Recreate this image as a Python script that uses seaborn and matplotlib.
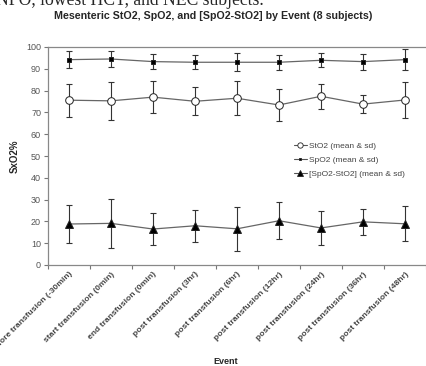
import matplotlib as mpl
import matplotlib.pyplot as plt
import numpy as np
import pandas as pd
import seaborn as sns

events = [
    "before transfusion (-30min)",
    "start transfusion (0min)",
    "end transfusion (0min)",
    "post transfusion (3hr)",
    "post transfusion (6hr)",
    "post transfusion (12hr)",
    "post transfusion (24hr)",
    "post transfusion (36hr)",
    "post transfusion (48hr)",
]
sto2_mean = [75.6, 75.3, 77.0, 75.1, 76.5, 73.4, 77.4, 73.8, 75.7]
sto2_sd = [7.5, 8.8, 7.3, 6.4, 7.7, 7.3, 5.7, 4.1, 8.2]
spo2_mean = [94.2, 94.5, 93.3, 93.0, 93.0, 93.0, 93.9, 93.3, 94.2]
spo2_sd = [4.0, 3.6, 3.6, 3.2, 4.2, 3.4, 3.2, 3.7, 4.8]
diff_mean = [18.8, 19.1, 16.5, 18.0, 16.6, 20.3, 17.0, 19.8, 18.9]
diff_sd = [8.8, 11.1, 7.4, 7.3, 10.0, 8.4, 8.0, 5.9, 8.1]
series = ["StO2 (mean & sd)", "SpO2 (mean & sd)", "[SpO2-StO2] (mean & sd)"]

sns.set_style("white")
mpl.rcParams["font.family"] = ["Liberation Sans", "DejaVu Sans"]

frames = []
for name, m, s in zip(series, [sto2_mean, spo2_mean, diff_mean], [sto2_sd, spo2_sd, diff_sd]):
    frames.append(pd.DataFrame({"Event": events, "pos": np.arange(len(events)),
                                "mean": m, "sd": s, "series": name}))
df = pd.concat(frames, ignore_index=True)

fig = plt.figure(figsize=(4.26, 3.66), dpi=100)
ax = fig.add_axes([48 / 426, 1 - 265 / 366, 378 / 426, 218 / 366])

markers = {series[0]: "o", series[1]: "s", series[2]: "^"}
sizes = {series[0]: 5.5, series[1]: 2.8, series[2]: 5.5}
faces = {series[0]: "white", series[1]: "black", series[2]: "black"}

for name in series:
    sub = df[df["series"] == name]
    ax.errorbar(sub["pos"], sub["mean"], yerr=sub["sd"], fmt="none",
                ecolor="#333333", elinewidth=0.8, capsize=2, capthick=0.8, zorder=2)

sns.lineplot(data=df, x="pos", y="mean", hue="series", style="series",
             palette=["#666666"] * 3, dashes=False, markers=markers,
             linewidth=0.9, ax=ax, legend=False, zorder=3)

for line, name in zip(ax.get_lines()[-3:], series):
    line.set_markersize(sizes[name])
    line.set_markerfacecolor(faces[name])
    line.set_markeredgecolor("#222222")
    line.set_markeredgewidth(0.7)

handles = [mpl.lines.Line2D([], [], color="#555555", lw=0.8, marker=markers[n],
                            markersize=sizes[n] * 0.7, markerfacecolor=faces[n],
                            markeredgecolor="#222222", markeredgewidth=0.6)
           for n in series]
ax.legend(handles, series, loc="upper left", bbox_to_anchor=(0.63, 0.60),
          frameon=False, fontsize=6, handlelength=1.6, handletextpad=0.3,
          labelspacing=0.75, labelcolor="#444444")

ax.set_xlim(-0.5, len(events) - 0.5)
ax.set_ylim(0, 100)
ax.set_yticks(np.arange(0, 101, 10))
ax.set_xticks(np.arange(len(events)))
ax.set_xticklabels(events, rotation=45, ha="right", rotation_mode="anchor",
                   fontsize=6.1, color="#444444", fontweight="bold")
ax.set_xticks(np.arange(len(events) + 1) - 0.5, minor=True)
ax.tick_params(axis="x", which="major", length=0, pad=4)
ax.tick_params(axis="x", which="minor", length=3, color="#777777", width=0.8,
               direction="out", bottom=True)
ax.tick_params(axis="y", labelsize=6.5, labelcolor="#555555", length=3,
               color="#777777", width=0.8, direction="out", left=True, pad=2)

for side in ["left", "bottom", "top"]:
    ax.spines[side].set_color("#888888")
    ax.spines[side].set_linewidth(0.9)
ax.spines["right"].set_visible(False)

ax.set_xlabel("Event", fontsize=6.5, fontweight="bold", labelpad=0)
ax.xaxis.set_label_coords(178 / 378, -0.42)
ax.set_ylabel("SxO2%", fontsize=7, fontweight="bold")
ax.yaxis.set_label_coords(-0.075, 0.5)

fig.text(213 / 426, 1 - 16 / 366,
         "Mesenteric StO2, SpO2, and [SpO2-StO2] by Event (8 subjects)",
         ha="center", va="center", fontsize=7.7, fontweight="bold")
fig.text(-0.01, 1 - 5 / 366, "NPO, lowest HCT, and NEC subjects.",
         ha="left", va="baseline", fontsize=12.7, family="Liberation Serif")

fig.savefig("out.png", dpi=100)
